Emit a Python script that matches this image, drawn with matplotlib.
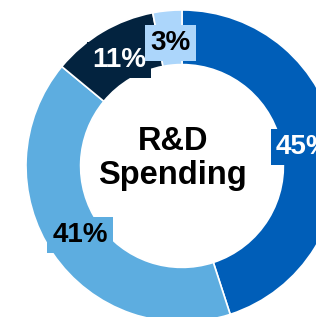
import numpy as np
import matplotlib
matplotlib.use("Agg")
import matplotlib.pyplot as plt

plt.rcParams["font.family"] = ["Liberation Sans", "DejaVu Sans"]

valores = [45, 41, 11, 3]
rotulos = ["45%", "41%", "11%", "3%"]
cores = ["#005eb8", "#5dade0", "#03233f", "#acd6fb"]
cores_texto = ["white", "black", "white", "black"]

fig = plt.figure(figsize=(3.16, 3.17), dpi=100)
ax = fig.add_axes([0, 0, 1, 1])

fatias, _ = ax.pie(valores, colors=cores, startangle=90, counterclock=False,
                   radius=1.0,
                   wedgeprops=dict(width=0.35, edgecolor="white", linewidth=1.2))

# rótulos com caixa da cor da fatia
for fatia, rot, cor, ct in zip(fatias, rotulos, cores, cores_texto):
    ang = np.deg2rad((fatia.theta1 + fatia.theta2) / 2)
    r = 0.79
    ax.text(r * np.cos(ang), r * np.sin(ang), rot, ha="center", va="center",
            fontsize=20, fontweight="bold", color=ct,
            bbox=dict(boxstyle="square,pad=0.18", facecolor=cor, edgecolor="none"))

ax.text(-0.06, 0.05, "R&D\nSpending", ha="center", va="center",
        fontsize=23.5, fontweight="bold", color="black", linespacing=1.12)

ax.set_xlim(-1.1667, 0.859)
ax.set_ylim(-0.968, 1.064)
ax.set_aspect("auto")
ax.axis("off")

fig.savefig("out.png", dpi=100)
